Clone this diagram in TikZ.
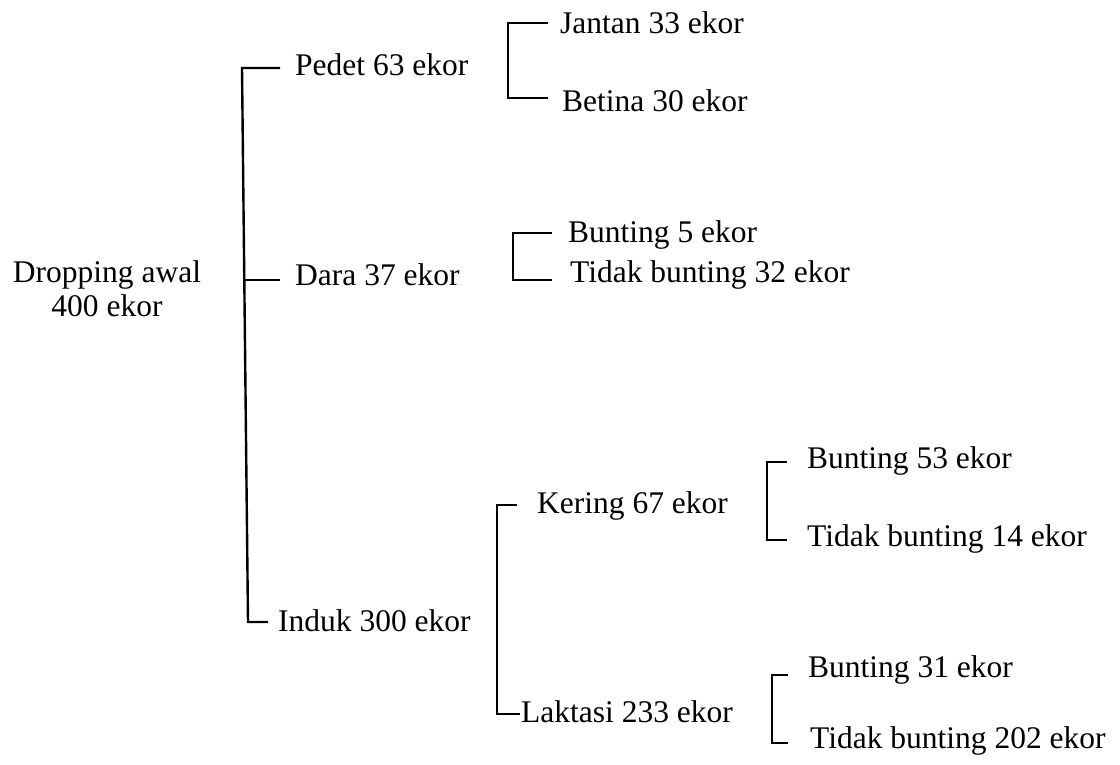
\documentclass[tikz,border=0pt]{standalone}
\usepackage{fontspec}
\setmainfont{Liberation Serif}
\begin{document}
\begin{tikzpicture}[x=1pt,y=-1pt,
  lbl/.style={anchor=base west,inner sep=0pt,font=\fontsize{31.5}{34}\selectfont},
  rootlbl/.style={anchor=base,inner sep=0pt,font=\fontsize{31.5}{34}\selectfont},
  br/.style={line width=2.4pt,line join=miter}]
\useasboundingbox (0,0) rectangle (1120,764);

% text nodes
\node[rootlbl] (root) at (107,282) {\begin{tabular}[t]{@{}c@{}}Dropping awal\\400 ekor\end{tabular}};
\node[lbl] (pedet) at (295,75) {Pedet 63 ekor};
\node[lbl] (dara) at (295,285) {Dara 37 ekor};
\node[lbl] (induk) at (278,631) {Induk 300 ekor};
\node[lbl] (jantan) at (560,33) {Jantan 33 ekor};
\node[lbl] (betina) at (562,111) {Betina 30 ekor};
\node[lbl] (bunting5) at (568,242) {Bunting 5 ekor};
\node[lbl] (tidak32) at (570,282) {Tidak bunting 32 ekor};
\node[lbl] (kering) at (537,513) {Kering 67 ekor};
\node[lbl] (laktasi) at (521,722) {Laktasi 233 ekor};
\node[lbl] (bunting53) at (807,468) {Bunting 53 ekor};
\node[lbl] (tidak14) at (807,546) {Tidak bunting 14 ekor};
\node[lbl] (bunting31) at (808,677) {Bunting 31 ekor};
\node[lbl] (tidak202) at (810,748) {Tidak bunting 202 ekor};

% bracket coordinates
\coordinate (mT) at (242,68);  \coordinate (mTe) at (280,68);
\coordinate (mD) at (244,280); \coordinate (mDe) at (280,280);
\coordinate (mB) at (248,622); \coordinate (mBe) at (268,622);

\coordinate (pT) at (508,23);  \coordinate (pTe) at (548,23);
\coordinate (pB) at (508,98);  \coordinate (pBe) at (548,98);

\coordinate (dT) at (513,233); \coordinate (dTe) at (552,233);
\coordinate (dB) at (513,280); \coordinate (dBe) at (552,280);

\coordinate (iT) at (497,505); \coordinate (iTe) at (517,505);
\coordinate (iB) at (497,714); \coordinate (iBe) at (520,714);

\coordinate (kT) at (767,462); \coordinate (kTe) at (787,462);
\coordinate (kB) at (767,540); \coordinate (kBe) at (787,540);

\coordinate (lT) at (772,675); \coordinate (lTe) at (788,675);
\coordinate (lB) at (772,743); \coordinate (lBe) at (788,743);

% brackets
\draw[br] (mTe) -- (mT) -- (mB) -- (mBe);
\draw[br] (mD) -- (mDe);
\draw[br] (pTe) -- (pT) -- (pB) -- (pBe);
\draw[br] (dTe) -- (dT) -- (dB) -- (dBe);
\draw[br] (iTe) -- (iT) -- (iB) -- (iBe);
\draw[br] (kTe) -- (kT) -- (kB) -- (kBe);
\draw[br] (lTe) -- (lT) -- (lB) -- (lBe);
\end{tikzpicture}
\end{document}
